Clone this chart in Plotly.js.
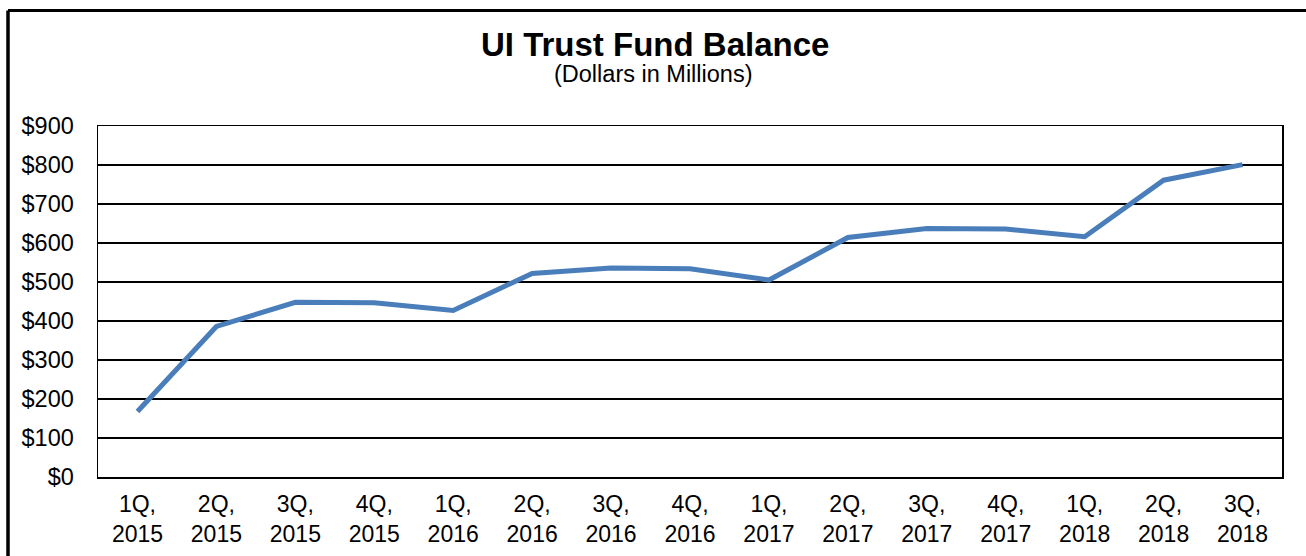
<!DOCTYPE html>
<html>
<head>
<meta charset="utf-8">
<script src="https://cdn.plot.ly/plotly-3.0.1.min.js"></script>
<style>
html,body{margin:0;padding:0;background:#fff;}
#chart{width:1306px;height:556px;}
</style>
</head>
<body>
<div id="chart"></div>
<script>
const categories = ["1Q,<br>2015","2Q,<br>2015","3Q,<br>2015","4Q,<br>2015","1Q,<br>2016","2Q,<br>2016","3Q,<br>2016","4Q,<br>2016","1Q,<br>2017","2Q,<br>2017","3Q,<br>2017","4Q,<br>2017","1Q,<br>2018","2Q,<br>2018","3Q,<br>2018"];
const balance = [168, 386, 448, 447, 427, 522, 536, 534, 505, 614, 637, 636, 616, 761, 801];
const yTickVals = [0,100,200,300,400,500,600,700,800,900];
const yTickText = ["$0","$100","$200","$300","$400","$500","$600","$700","$800","$900"];
const titleText = "UI Trust Fund Balance";
const subtitleText = "(Dollars in Millions)";

const FONT = "Liberation Sans, Arial, sans-serif";
const PT = 126, PB = 477, PL = 98, PR = 1282;
const py = v => (PB - v) / (PB - PT);
const px = v => (v - PL) / (PR - PL);

const trace = {
  x: categories,
  y: balance,
  type: "scatter",
  mode: "lines",
  line: {color: "#4a7ebb", width: 5},
  hoverinfo: "skip"
};

const layout = {
  width: 1306,
  height: 556,
  margin: {l: PL, r: 1306 - PR, t: PT, b: 556 - PB},
  paper_bgcolor: "#fff",
  plot_bgcolor: "#fff",
  showlegend: false,
  font: {family: FONT, color: "#000", size: 23.5},
  xaxis: {
    type: "category",
    range: [-0.5, 14.5],
    showgrid: false,
    showline: true, mirror: true, linecolor: "#000", linewidth: 1.5,
    ticks: "", ticklabelstandoff: 6,
    tickfont: {family: FONT, size: 23, color: "#000"},
    fixedrange: true
  },
  yaxis: {
    range: [0, 900],
    tickvals: yTickVals,
    ticktext: yTickText,
    showgrid: true, gridcolor: "#000", gridwidth: 2.3,
    zeroline: false,
    showline: true, mirror: true, linecolor: "#000", linewidth: 1.5,
    ticks: "", ticklabelstandoff: 18,
    tickfont: {family: FONT, size: 23.5, color: "#000"},
    fixedrange: true
  },
  annotations: [
    {xref: "paper", yref: "paper", x: px(655), y: py(45), xanchor: "center", yanchor: "middle",
     text: "<b>" + titleText + "</b>", showarrow: false, font: {family: FONT, size: 33, color: "#000"}},
    {xref: "paper", yref: "paper", x: px(653), y: py(74), xanchor: "center", yanchor: "middle",
     text: subtitleText, showarrow: false, font: {family: FONT, size: 23.5, color: "#000"}}
  ],
  shapes: [
    {type: "line", xref: "paper", yref: "paper", x0: px(8), x1: px(8), y0: -0.5, y1: py(10.5), line: {color: "#000", width: 3.5}},
    {type: "line", xref: "paper", yref: "paper", x0: px(8), x1: 1.2, y0: py(10.5), y1: py(10.5), line: {color: "#000", width: 3}}
  ]
};

Plotly.newPlot("chart", [trace], layout, {displayModeBar: false, staticPlot: true});
</script>
</body>
</html>
